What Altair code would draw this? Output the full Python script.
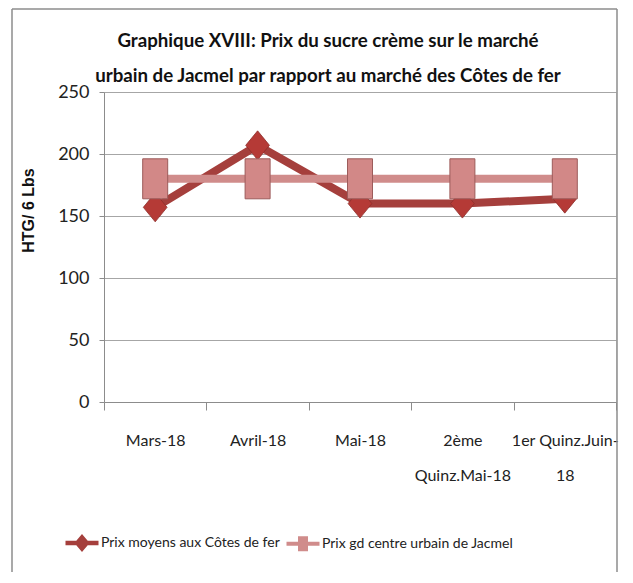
import altair as alt
import pandas as pd

# ---- data ----
categories = ["Mars-18", "Avril-18", "Mai-18", "2ème\nQuinz.Mai-18", "1er Quinz.Juin-\n18"]
cotes_de_fer = [157, 207, 160, 160, 164]
jacmel = [180, 180, 180, 180, 180]
series_names = ["Prix moyens aux Côtes de fer", "Prix gd centre urbain de Jacmel"]
y_ticks = [0, 50, 100, 150, 200, 250]
title_lines = [
    "Graphique XVIII: Prix du sucre crème sur le marché",
    "urbain de Jacmel par rapport au marché des Côtes de fer",
]
y_title = "HTG/ 6 Lbs"

rows = []
for c, v in zip(categories, cotes_de_fer):
    rows.append({"cat": c, "series": series_names[0], "value": v})
for c, v in zip(categories, jacmel):
    rows.append({"cat": c, "series": series_names[1], "value": v})
df = pd.DataFrame(rows)

# ---- styles ----
FONT = "Lato"
RED = "#A53F3C"
RED_MARK = "#B53A36"
PINK = "#D08C8B"
PINK_MARK = "#D28887"

DIAMOND = "M0,-1 L0.82,0 L0,1 L-0.82,0 Z"
RECT = "M-0.625,-1 L0.625,-1 L0.625,1 L-0.625,1 Z"
COMBO_D = ("M-1.65,-0.22 L-0.57,-0.22 L0,-0.9 L0.57,-0.22 L1.65,-0.22 L1.65,0.22 "
           "L0.57,0.22 L0,0.9 L-0.57,0.22 L-1.65,0.22 Z")
COMBO_R = ("M-1.65,-0.2 L-0.5,-0.2 L-0.5,-0.75 L0.5,-0.75 L0.5,-0.2 L1.65,-0.2 L1.65,0.2 "
           "L0.5,0.2 L0.5,0.75 L-0.5,0.75 L-0.5,0.2 L-1.65,0.2 Z")

x_enc = alt.X(
    "cat:N",
    sort=categories,
    scale=alt.Scale(type="band", paddingInner=0, paddingOuter=0),
    axis=alt.Axis(
        title=None,
        labelExpr="split(datum.label, '\\n')",
        labelAngle=0,
        labelFont=FONT,
        labelFontSize=16,
        labelColor="#222222",
        labelBaseline="top",
        labelPadding=22,
        labelLineHeight=35,
        labelLimit=0,
        tickBand="extent",
        tickSize=8,
        tickColor="#8C8C8C",
        domainColor="#8C8C8C",
        grid=False,
    ),
)
y_enc = alt.Y(
    "value:Q",
    scale=alt.Scale(domain=[0, 250], nice=False),
    axis=alt.Axis(
        values=y_ticks,
        title=y_title,
        titleFont="Liberation Sans",
        titleFontSize=16,
        titleFontWeight="bold",
        titleColor="#111111",
        titleAngle=-90,
        titleAlign="center",
        titleBaseline="middle",
        titleX=-76,
        titleY=118,
        labelFont=FONT,
        labelFontSize=18,
        labelColor="#222222",
        labelPadding=10,
        tickSize=5,
        tickColor="#8C8C8C",
        domainColor="#8C8C8C",
        grid=True,
        gridColor="#A6A6A6",
        gridWidth=1,
    ),
)

base = alt.Chart(df)

red_line = base.transform_filter(alt.datum.series == series_names[0]).mark_line(
    color=RED, strokeWidth=8
).encode(x=x_enc, y=y_enc)
red_pts = base.transform_filter(alt.datum.series == series_names[0]).mark_point(
    shape=DIAMOND, filled=True, size=840, color=RED_MARK, stroke="#8E2E2B",
    strokeWidth=0.8, opacity=1
).encode(x=x_enc, y=y_enc)
pink_line = base.transform_filter(alt.datum.series == series_names[1]).mark_line(
    color=PINK, strokeWidth=8
).encode(x=x_enc, y=y_enc)
pink_pts = base.transform_filter(alt.datum.series == series_names[1]).mark_point(
    shape=RECT, filled=True, size=1600, color=PINK_MARK, stroke="#9C5C5B",
    strokeWidth=1, opacity=1
).encode(x=x_enc, y=y_enc)

leg = alt.Legend(
    title=None,
    orient="none",
    legendX=-32,
    legendY=441,
    direction="horizontal",
    symbolSize=400,
    labelFont=FONT,
    labelFontSize=14,
    labelColor="#222222",
    labelOffset=9,
    labelLimit=0,
    columnPadding=6,
    symbolStrokeWidth=0,
)
legend_layer = base.mark_point(filled=True, clip=True, opacity=1).encode(
    x=alt.X("cat:N", sort=categories),
    y=alt.value(-3000),
    color=alt.Color("series:N", scale=alt.Scale(domain=series_names, range=[RED, PINK]), legend=leg),
    shape=alt.Shape("series:N", scale=alt.Scale(domain=series_names, range=[COMBO_D, COMBO_R]), legend=leg),
)

frame_data = alt.Data(values=[{"k": 1}])
frame_left = alt.Chart(frame_data).mark_rule(color="#8C8C8C", strokeWidth=1.5).encode(
    x=alt.value(-92), y=alt.value(-83), y2=alt.value(480))
frame_top = alt.Chart(frame_data).mark_rule(color="#8C8C8C", strokeWidth=1.5).encode(
    x=alt.value(-92), x2=alt.value(513), y=alt.value(-83))
frame_right = alt.Chart(frame_data).mark_rule(color="#8C8C8C", strokeWidth=1.5).encode(
    x=alt.value(513), y=alt.value(-83), y2=alt.value(480))

chart = alt.layer(
    frame_left, frame_top, frame_right,
    red_line, red_pts, pink_line, pink_pts, legend_layer,
).properties(
    width=512,
    height=310,
    autosize=alt.AutoSizeParams(type="none"),
    padding={"left": 96, "top": 84, "right": 9, "bottom": 173},
    title=alt.TitleParams(
        text=title_lines,
        font=FONT,
        fontSize=18.7,
        fontWeight="bold",
        color="#111111",
        anchor="middle",
        frame="group",
        dx=-32,
        dy=85,
        offset=8,
        lineHeight=35,
    ),
).configure_view(stroke=None).configure(background="white")

chart.save("out.html", embed_options={"renderer": "svg", "actions": False})
